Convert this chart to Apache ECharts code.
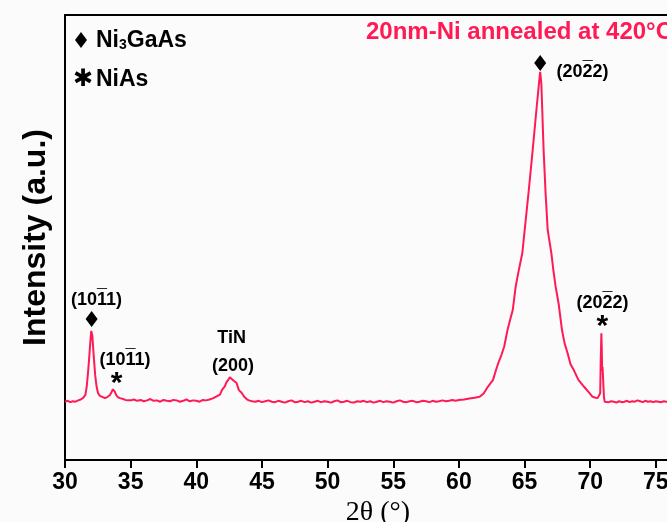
<!DOCTYPE html>
<html>
<head>
<meta charset="utf-8">
<script src="https://cdn.jsdelivr.net/npm/echarts@6/dist/echarts.min.js"></script>
<style>html,body{margin:0;padding:0;background:#fbfbfb}#c{width:667px;height:522px}</style>
</head>
<body>
<div id="c"></div>
<script>
const twoTheta = [
30.00,30.20,30.40,30.60,30.80,31.00,31.20,31.40,31.55,31.65,31.75,31.83,31.92,32.00,32.03,32.08,32.15,32.21,32.30,32.41,
32.52,32.66,32.80,33.04,33.25,33.42,33.55,33.65,33.73,33.80,33.90,34.03,34.20,34.41,34.60,34.80,35.00,35.25,35.50,35.75,
36.00,36.25,36.50,36.75,37.00,37.25,37.50,37.75,38.00,38.25,38.50,38.75,39.00,39.25,39.50,39.75,40.00,40.25,40.50,40.75,
41.00,41.30,41.55,41.80,41.95,42.18,42.30,42.43,42.55,42.62,42.70,42.85,43.07,43.24,43.45,43.65,43.83,44.00,44.25,44.50,
44.75,45.00,45.25,45.50,45.75,46.00,46.25,46.50,46.75,47.00,47.25,47.50,47.75,48.00,48.25,48.50,48.75,49.00,49.25,49.50,
49.75,50.00,50.25,50.50,50.75,51.00,51.25,51.50,51.75,52.00,52.25,52.50,52.75,53.00,53.25,53.50,53.75,54.00,54.25,54.50,
54.75,55.00,55.25,55.50,55.75,56.00,56.25,56.50,56.75,57.00,57.25,57.50,57.75,58.00,58.25,58.50,58.75,59.00,59.25,59.50,
59.75,60.00,60.40,60.80,61.20,61.58,61.90,62.19,62.40,62.60,62.80,63.00,63.25,63.45,63.70,63.90,64.10,64.32,64.55,64.83,
65.01,65.30,65.62,65.90,66.10,66.19,66.28,66.45,66.60,66.76,67.04,67.20,67.37,67.60,67.85,68.05,68.28,68.50,68.75,69.10,
69.55,69.90,70.18,70.40,70.56,70.70,70.76,70.80,70.85,70.88,70.91,70.94,70.97,71.00,71.05,71.10,71.20,71.40,71.60,71.80,
72.00,72.20,72.40,72.60,72.80,73.00,73.20,73.40,73.60,73.80,74.00,74.20,74.40,74.60,74.80,75.00,75.20,75.40,75.60,75.80,76.00
];
const intensity = [
131,133,130,132,131,134,136,140,146,164,195,225,262,290,292,280,250,225,190,164,
150,144,141,139,142,146,153,159,160,153,146,141,139,137,135,134,134,136,133,135,
132,134,137,133,134,131,135,133,132,135,134,131,133,136,132,134,133,131,135,134,
136,139,143,147,157,166,175,180,186,187,185,178,173,157,151,142,137,134,132,131,
133,130,132,134,131,130,133,131,129,132,134,130,131,133,130,132,129,131,133,130,
132,131,129,132,134,130,131,133,130,129,132,131,133,130,132,129,131,133,130,132,
131,129,132,134,131,130,132,133,130,131,133,132,130,133,131,132,134,132,133,135,
133,135,136,138,140,142,150,164,172,180,200,218,237,255,292,315,337,389,425,465,
517,600,697,786,847,872,845,697,600,517,465,425,389,350,292,262,240,215,202,180,
164,152,142,140,139,142,150,224,285,250,200,209,190,170,140,131,132,130,132,131,
129,132,130,131,133,130,132,131,134,132,130,133,131,132,130,132,131,130,132,131,130
];
const xTicks = [30,35,40,45,50,55,60,65,70,75];
// phase markers: [2θ, intensity]
const diamondMarks = [[32.03, 317], [66.19, 892]];
const asteriskMarks = [[33.93, 180], [70.92, 308]];
// [text, 2θ, intensity, index of the barred (negative) index digit or -1]
const peakLabels = [
  ['(1011)', 32.40, 360, 3],
  ['(1011)', 34.57, 225, 3],
  ['TiN', 42.69, 274, -1],
  ['(200)', 42.79, 211, -1],
  ['(2022)', 69.42, 872, 3],
  ['(2022)', 70.94, 353, 3]
];
const chartTitle = '20nm-Ni annealed at 420°C';
const lineColor = '#ff1a56';

const labelFont = "bold 18px 'Liberation Sans', Arial, sans-serif";
const ctx = document.createElement('canvas').getContext('2d');
ctx.font = labelFont;
function barOffset(text, idx) {
  const full = ctx.measureText(text).width;
  const pre = ctx.measureText(text.slice(0, idx)).width;
  const ch = ctx.measureText(text[idx]).width;
  return pre + ch / 2 - full / 2;
}

const chart = echarts.init(document.getElementById('c'), null, {renderer: 'canvas'});
const sans = "'Liberation Sans', Arial, sans-serif";
const narrow = "'Liberation Sans Narrow', 'Arial Narrow', 'Liberation Sans', sans-serif";
const solid = {color: '#000', opacity: 1};
chart.setOption({
  backgroundColor: '#fbfbfb',
  animation: false,
  grid: {left: 65, top: 15, width: 604, height: 445, containLabel: false, outerBoundsMode: 'none'},
  xAxis: [{
    type: 'value', min: 30, max: 76, interval: 5,
    axisLine: {show: true, lineStyle: {color: '#000', width: 2}},
    axisTick: {show: true, inside: false, length: 8, lineStyle: {color: '#000', width: 2}},
    axisLabel: {
      color: '#000', fontFamily: narrow, fontWeight: 'bold', fontSize: 23, margin: 11,
      showMaxLabel: false,
      formatter: v => xTicks.indexOf(v) >= 0 ? String(v) : ' '
    },
    splitLine: {show: false},
    name: '2θ (°)', nameLocation: 'middle', nameGap: 36,
    nameTextStyle: {color: '#000', fontFamily: "'Liberation Serif', 'Times New Roman', serif", fontSize: 28, padding: [0, 0, 0, 22]}
  }, {
    type: 'value', min: 30, max: 76, position: 'top',
    axisLine: {show: true, onZero: false, lineStyle: {color: '#000', width: 2}},
    axisTick: {show: false}, axisLabel: {show: false}, splitLine: {show: false}
  }],
  yAxis: {
    type: 'value', min: 0, max: 1000,
    axisLine: {show: true, lineStyle: {color: '#000', width: 2}},
    axisTick: {show: false}, axisLabel: {show: false}, splitLine: {show: false},
    name: 'Intensity (a.u.)', nameLocation: 'middle', nameGap: 13,
    nameTextStyle: {color: '#000', fontFamily: sans, fontWeight: 'bold', fontSize: 32}
  },
  series: [{
    type: 'line', xAxisIndex: 0,
    data: twoTheta.map((t, i) => [t, intensity[i]]),
    showSymbol: false, smooth: false,
    lineStyle: {color: lineColor, width: 2}
  }, {
    type: 'scatter', data: diamondMarks, symbol: 'diamond', symbolSize: [12, 16],
    itemStyle: solid, silent: true
  }, {
    type: 'scatter', data: asteriskMarks, symbolSize: 0, silent: true, itemStyle: solid,
    label: {show: true, position: 'inside', formatter: '*', color: '#000', textBorderWidth: 0,
      fontFamily: sans, fontWeight: 'bold', fontSize: 30, offset: [0, 4]}
  }, {
    type: 'scatter', symbolSize: 0, silent: true, itemStyle: solid,
    data: peakLabels.map(p => ({name: p[0], value: [p[1], p[2]]})),
    label: {show: true, position: 'inside', formatter: p => p.name, color: '#000', textBorderWidth: 0,
      fontFamily: sans, fontWeight: 'bold', fontSize: 18}
  }, {
    type: 'scatter', symbolSize: 0, silent: true, itemStyle: solid,
    data: peakLabels.filter(p => p[3] >= 0).map(p => ({
      value: [p[1], p[2]],
      label: {offset: [barOffset(p[0], p[3]), -3]}
    })),
    label: {show: true, position: 'inside', formatter: '\u00AF', color: '#000', textBorderWidth: 0,
      fontFamily: sans, fontWeight: 'bold', fontSize: 18}
  }],
  graphic: [
    {type: 'text', left: 366, top: 20, style: {text: chartTitle, fill: lineColor,
      font: "bold 24px 'Liberation Sans', Arial, sans-serif"}},
    {type: 'polygon', shape: {points: [[81, 32], [87, 40], [81, 48], [75, 40]]}, style: {fill: '#000'}},
    {type: 'text', left: 96, top: 29, style: {
      text: '{a|Ni}{s|3}{a|GaAs}',
      rich: {
        a: {font: "bold 23px 'Liberation Sans', Arial, sans-serif", fill: '#000'},
        s: {font: "bold 14px 'Liberation Sans', Arial, sans-serif", fill: '#000', padding: [10, 0, 0, 0]}
      }}},
    {type: 'text', left: 73, top: 68, style: {text: '✱', fill: '#000', font: "24px 'DejaVu Sans', sans-serif"}},
    {type: 'text', left: 96, top: 68, style: {text: 'NiAs', fill: '#000', font: "bold 23px 'Liberation Sans', Arial, sans-serif"}}
  ]
});
</script>
</body>
</html>
